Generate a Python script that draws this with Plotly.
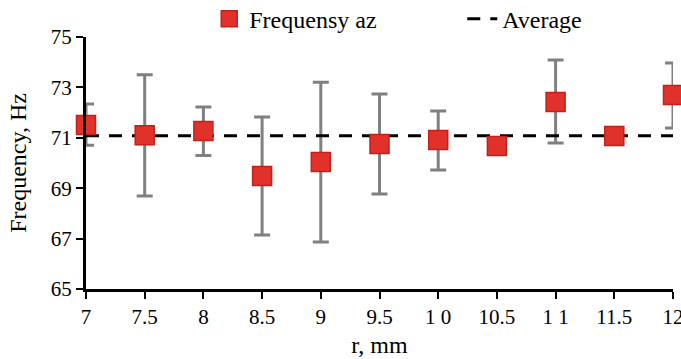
import plotly.graph_objects as go

r_vals = [7, 7.5, 8, 8.5, 9, 9.5, 10, 10.5, 11, 11.5, 12]
freq = [71.51, 71.10, 71.27, 69.48, 70.04, 70.75, 70.91, 70.67, 72.42, 71.07, 72.70]
err_plus = [0.83, 2.40, 0.95, 2.35, 3.16, 1.99, 1.15, 0.0, 1.67, 0.0, 1.27]
err_minus = [0.81, 2.41, 0.97, 2.34, 3.17, 1.98, 1.19, 0.0, 1.63, 0.0, 1.31]
avg_x = [7, 12]
avg_y = [71.08, 71.08]
x_tick_vals = [7, 7.5, 8, 8.5, 9, 9.5, 10, 10.5, 11, 11.5, 12]
x_tick_text = ["7", "7.5", "8", "8.5", "9", "9.5", "1 0", "10.5", "1 1", "11.5", "12"]
y_tick_vals = [65, 67, 69, 71, 73, 75]

FONT = "Times New Roman"

fig = go.Figure()
# error bars (drawn first, beneath the average line)
fig.add_trace(go.Scatter(
    x=r_vals, y=freq, mode="markers", showlegend=False, hoverinfo="skip",
    marker=dict(size=1, color="rgba(0,0,0,0)"),
    error_y=dict(type="data", symmetric=False, array=err_plus, arrayminus=err_minus,
                 color="#808080", thickness=3, width=8),
))
fig.add_trace(go.Scatter(
    x=avg_x, y=avg_y, mode="lines", name="Average",
    line=dict(color="black", width=3, dash="13px,10px"),
    cliponaxis=False, legendrank=2,
))
fig.add_trace(go.Scatter(
    x=r_vals, y=freq, mode="markers", name="Frequensy az",
    marker=dict(symbol="square", size=19, color="#e0322a",
                line=dict(color="#c41f18", width=1.5)),
    cliponaxis=False, legendrank=1,
))

fig.update_layout(
    width=681, height=359,
    margin=dict(l=86, r=8, t=37, b=70, autoexpand=False),
    paper_bgcolor="white", plot_bgcolor="white",
    font=dict(family=FONT, size=21, color="black"),
    showlegend=True,
    legend=dict(orientation="h", x=0.21, xanchor="left", y=1.071, yanchor="middle",
                font=dict(size=24, family=FONT), entrywidth=208, entrywidthmode="pixels",
                bgcolor="rgba(0,0,0,0)"),
    xaxis=dict(range=[7, 12], tickvals=x_tick_vals, ticktext=x_tick_text,
               showgrid=False, zeroline=False, showline=True, linecolor="black",
               linewidth=3, ticks="outside", ticklen=7, tickwidth=2, tickcolor="black",
               automargin=False, ticklabeloverflow="allow",
               title=dict(text="r, mm", font=dict(size=24, family=FONT), standoff=8)),
    yaxis=dict(range=[65, 75], tickvals=y_tick_vals,
               showgrid=False, zeroline=False, showline=True, linecolor="black",
               linewidth=3, ticks="outside", ticklen=7, tickwidth=2, tickcolor="black",
               automargin=False,
               title=dict(text="Frequency, Hz", font=dict(size=24, family=FONT), standoff=18)),
)

fig.write_html("out.html", config={"displayModeBar": False},
               post_script="document.body.style.margin='0';")
